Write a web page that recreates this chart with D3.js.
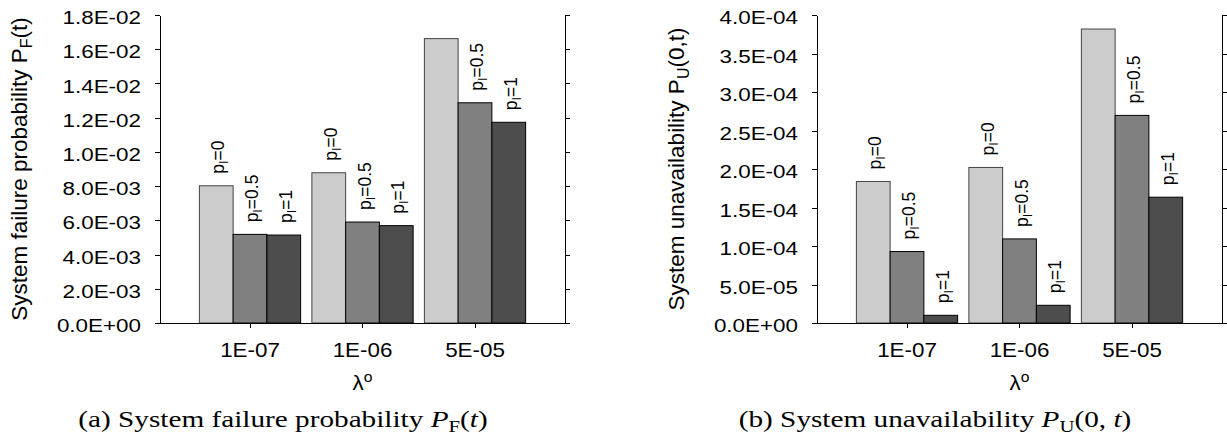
<!DOCTYPE html>
<meta charset="utf-8">
<style>
    body { margin: 0; background: #fff; }
    svg { display: block; }
    .axis path, .axis line { fill: none; stroke: #000; shape-rendering: crispEdges; }
    .axis text { font-family: "Liberation Sans", Arial, sans-serif; fill: #000; }
    .sans { font-family: "Liberation Sans", Arial, sans-serif; fill: #000; }
    .serif { font-family: "Liberation Serif", "Times New Roman", serif; fill: #000; }
</style>
<body>
<div id="plotarea"></div>
<script src="https://cdn.jsdelivr.net/npm/d3@7/dist/d3.min.js"></script>
<script>

    // lambda^o categories and p_I series
    var lambdaLabels = ["1E-07", "1E-06", "5E-05"];
    var pIValues = ["0", "0.5", "1"];

    // (a) system failure probability P_F(t)
    var failureP0 = [0.00802, 0.00878, 0.01662];
    var failureP05 = [0.00518, 0.00590, 0.01287];
    var failureP1 = [0.00514, 0.00569, 0.01173];
    var failureTicks = [0, 0.002, 0.004, 0.006, 0.008, 0.010, 0.012, 0.014, 0.016, 0.018];

    // (b) system unavailability P_U(0,t)
    var unavailP0 = [1.838e-4, 2.02e-4, 3.818e-4];
    var unavailP05 = [9.28e-5, 1.092e-4, 2.696e-4];
    var unavailP1 = [1.0e-5, 2.3e-5, 1.634e-4];
    var unavailTicks = [0, 5e-5, 1e-4, 1.5e-4, 2e-4, 2.5e-4, 3e-4, 3.5e-4, 4e-4];

    var colors = ["#cccccc", "#808080", "#4d4d4d"];

    // the original figure is a bit wider than tall, so horizontal text is stretched
    var SX = 1.18;

    var svg = d3.select("#plotarea").append("svg")
            .attr("width", 1227)
            .attr("height", 445);

    // 1.8E-02 style labels
    function fmtE(v) {
        if (v === 0) return "0.0E+00";
        var e = Math.floor(Math.log10(Math.abs(v)) + 1e-9);
        var m = v / Math.pow(10, e);
        var s = e < 0 ? "-" : "+";
        var ae = Math.abs(e);
        return m.toFixed(1) + "E" + s + (ae < 10 ? "0" : "") + ae;
    }

    function drawPanel(p) {
        var top = 15, bottom = 323;

        var x = d3.scaleBand()
                .domain(lambdaLabels)
                .range([p.x0, p.x1])
                .paddingInner(0.1)
                .paddingOuter(0.35);

        var xs = d3.scaleBand()
                .domain(pIValues)
                .range([0, x.bandwidth()]);

        var y = d3.scaleLinear()
                .domain([0, p.ticks[p.ticks.length - 1]])
                .range([bottom, top]);

        var rows = [];
        lambdaLabels.forEach(function(c, i) {
            pIValues.forEach(function(s, j) {
                rows.push({cat: c, s: s, j: j, v: p.series[j][i]});
            });
        });

        var g = svg.append("g");

        g.selectAll(".bar")
                .data(rows)
                .enter().append("rect")
                .attr("class", "bar")
                .attr("x", function(d) { return x(d.cat) + xs(d.s); })
                .attr("y", function(d) { return y(d.v); })
                .attr("width", xs.bandwidth())
                .attr("height", function(d) { return y(0) - y(d.v); })
                .style("fill", function(d) { return colors[d.j]; })
                .style("stroke", function(d) { return d.j === 0 ? "#444" : "#000"; })
                .style("stroke-width", 1);

        // rotated data labels p_I=..
        var gap = 12;
        rows.forEach(function(d) {
            var cx = x(d.cat) + xs(d.s) + xs.bandwidth() / 2;
            var t = g.append("text")
                    .attr("class", "sans")
                    .style("font-size", "17.5px")
                    .attr("transform", "translate(" + (cx + 8) + "," + (y(d.v) - gap) + ") rotate(-90)");
            t.append("tspan").text("p");
            t.append("tspan").attr("dy", 4).style("font-size", "12.5px").text("I");
            t.append("tspan").attr("dy", -4).text("=" + d.s);
            // labels that would leave the plot area are not shown
            if (y(d.v) - gap - t.node().getComputedTextLength() < top) t.remove();
        });

        g.append("g")
                .attr("class", "axis")
                .attr("transform", "translate(" + p.x0 + ",0)")
                .call(d3.axisLeft(y).tickValues(p.ticks).tickSize(5).tickSizeOuter(0)
                        .tickPadding(14).tickFormat(fmtE))
                .selectAll("text")
                .style("font-size", "19px")
                .attr("x", 0)
                .attr("dy", "0.45em")
                .attr("transform", "translate(-19,0) scale(" + SX + ",1)");

        g.append("g")
                .attr("class", "axis")
                .attr("transform", "translate(" + p.x1 + ",0)")
                .call(d3.axisRight(y).tickValues(p.ticks).tickSize(5).tickSizeOuter(0)
                        .tickFormat(""));

        g.append("g")
                .attr("class", "axis")
                .attr("transform", "translate(0," + bottom + ")")
                .call(d3.axisBottom(x).tickSize(5).tickSizeOuter(0).tickPadding(15))
                .selectAll("text")
                .style("font-size", "20px")
                .attr("transform", "scale(" + (SX - 0.06) + ",1)");

        // x title lambda^o
        var xt = g.append("text")
                .attr("class", "sans")
                .attr("text-anchor", "middle")
                .attr("transform", "translate(" + (x(lambdaLabels[1]) + x.bandwidth() / 2) + ",390) scale(" + (SX - 0.06) + ",1)")
                .style("font-size", "20px");
        xt.append("tspan").text("λ");
        xt.append("tspan").attr("dy", -8).style("font-size", "14px").text("o");

        // y title
        var yt = g.append("text")
                .attr("class", "sans")
                .attr("text-anchor", "middle")
                .attr("transform", "translate(" + (p.x0 - 133) + "," + ((top + bottom) / 2) + ") rotate(-90)")
                .style("font-size", "22.5px");
        yt.append("tspan").text(p.yTitle);
        yt.append("tspan").attr("dy", 5).style("font-size", "16px").text(p.ySub);
        yt.append("tspan").attr("dy", -5).text(p.yTail);

        // caption
        var cap = g.append("text")
                .attr("class", "serif")
                .attr("text-anchor", "middle")
                .attr("transform", "translate(" + p.capX + ",427) scale(1.3,1)")
                .style("font-size", "22.5px");
        cap.append("tspan").text(p.capText);
        cap.append("tspan").style("font-style", "italic").text("P");
        cap.append("tspan").attr("dy", 5).style("font-size", "16px").text(p.ySub);
        cap.append("tspan").attr("dy", -5).text(p.capArgs[0]);
        cap.append("tspan").style("font-style", "italic").text("t");
        cap.append("tspan").text(p.capArgs[1]);
    }

    drawPanel({
        x0: 160, x1: 565,
        series: [failureP0, failureP05, failureP1],
        ticks: failureTicks,
        yTitle: "System failure probability P", ySub: "F", yTail: "(t)",
        capX: 283, capText: "(a) System failure probability ", capArgs: ["(", ")"]
    });

    drawPanel({
        x0: 817, x1: 1222,
        series: [unavailP0, unavailP05, unavailP1],
        ticks: unavailTicks,
        yTitle: "System unavailability P", ySub: "U", yTail: "(0,t)",
        capX: 935, capText: "(b) System unavailability ", capArgs: ["(0, ", ")"]
    });

</script>
